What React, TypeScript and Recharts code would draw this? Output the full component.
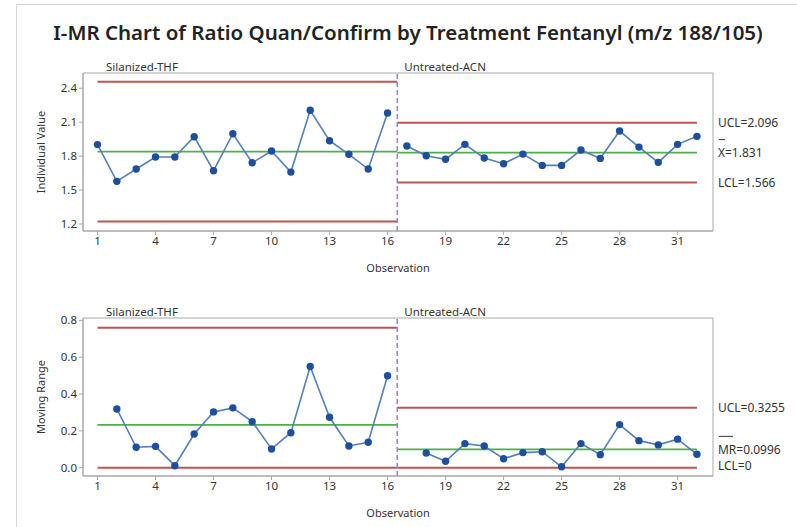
import React from 'react';
import {
  ComposedChart,
  Line,
  XAxis,
  YAxis,
  ReferenceLine,
  ReferenceArea,
  Label,
} from 'recharts';

// Observation numbers, split by treatment stage
const stage1Obs = [1, 2, 3, 4, 5, 6, 7, 8, 9, 10, 11, 12, 13, 14, 15, 16];
const stage2Obs = [17, 18, 19, 20, 21, 22, 23, 24, 25, 26, 27, 28, 29, 30, 31, 32];
const stageNames = ['Silanized-THF', 'Untreated-ACN'];

// Individual ratio values (Quan/Confirm)
const stage1Values = [1.902, 1.577, 1.686, 1.792, 1.792, 1.972, 1.671, 1.998, 1.742, 1.845, 1.659, 2.205, 1.936, 1.816, 1.686, 2.181];
const stage2Values = [1.889, 1.803, 1.772, 1.904, 1.783, 1.733, 1.818, 1.718, 1.718, 1.854, 1.78, 2.022, 1.88, 1.745, 1.904, 1.975];

// Moving ranges (first observation of each stage has none)
const stage1MR = [null, 0.319, 0.111, 0.116, 0.011, 0.183, 0.303, 0.325, 0.25, 0.102, 0.19, 0.55, 0.274, 0.118, 0.138, 0.499];
const stage2MR = [null, 0.08, 0.035, 0.131, 0.118, 0.049, 0.082, 0.087, 0.005, 0.131, 0.071, 0.234, 0.147, 0.124, 0.155, 0.073];

// Control limits per stage
const indUCL = [2.458, 2.096];
const indMean = [1.84, 1.831];
const indLCL = [1.222, 1.566];
const mrUCL = [0.7596, 0.3255];
const mrMean = [0.2325, 0.0996];
const mrLCL = [0, 0];

// Axis ticks
const obsTicks = [1, 4, 7, 10, 13, 16, 19, 22, 25, 28, 31];
const indTicks = [1.2, 1.5, 1.8, 2.1, 2.4];
const mrTicks = [0, 0.2, 0.4, 0.6, 0.8];

const xDomain: [number, number] = [0.25, 32.83];
const indDomain: [number, number] = [1.138, 2.535];
const mrDomain: [number, number] = [-0.045, 0.813];
const stageBreak = 16.5;
const stageStart = 1;
const stageEnd = 32;

const FONT = '"Segoe UI", "Noto Sans", "Open Sans", sans-serif';
const TEXT = '#333333';
const FRAME = '#a8a8a8';
const LINE_BLUE = '#5580b6';
const DOT_BLUE = '#1d4f9e';
const GREEN = '#4fae4a';
const RED = '#bf5552';
const PURPLE = '#9a7fd3';

const toRows = (xs: number[], ys: (number | null)[]) => xs.map((x, i) => ({ obs: x, v: ys[i] }));

const Dot = (props: any) => {
  const { cx, cy, value } = props;
  if (value == null || cx == null || cy == null) return null;
  return <circle cx={cx} cy={cy} r={3.7} fill={DOT_BLUE} stroke="none" />;
};

// Text placed to the right of a limit line's end
const LimitTag = (props: any) => {
  const { viewBox, text, bar, barWidth = 6, dy = 0 } = props;
  const x = viewBox.x + viewBox.width + 21;
  const y = viewBox.y + dy;
  return (
    <g>
      {bar && (
        <line x1={x + 1} x2={x + 1 + barWidth} y1={y - 13} y2={y - 13} stroke={TEXT} strokeWidth={1} />
      )}
      <text x={x} y={y} dominantBaseline="central" fontSize={12} fontFamily={FONT} fill={TEXT}>
        {text}
      </text>
    </g>
  );
};

const StageTag = (props: any) => {
  const { viewBox, text, dx } = props;
  return (
    <text
      x={viewBox.x + dx}
      y={viewBox.y - 7}
      dominantBaseline="central"
      fontSize={11.5}
      fontFamily={FONT}
      fill={TEXT}
    >
      {text}
    </text>
  );
};

type PanelProps = {
  width: number;
  height: number;
  marginTop: number;
  marginBottom: number;
  yDomain: [number, number];
  yTicks: number[];
  yLabel: string;
  s1: (number | null)[];
  s2: (number | null)[];
  ucl: number[];
  mean: number[];
  lcl: number[];
  tags: { ucl: string; mean: string; meanBarWidth: number; lcl: string; lclDy: number };
};

const Panel = (p: PanelProps) => {
  const rows1 = toRows(stage1Obs, p.s1);
  const rows2 = toRows(stage2Obs, p.s2);
  const seg = (a: number, b: number, y: number) => [
    { x: a, y },
    { x: b, y },
  ];
  const tickStyle = { fontSize: 11.5, fontFamily: FONT, fill: TEXT };
  return (
    <ComposedChart
      width={p.width}
      height={p.height}
      margin={{ top: p.marginTop, right: 84, bottom: p.marginBottom, left: 0 }}
    >
      <XAxis
        dataKey="obs"
        type="number"
        domain={xDomain}
        ticks={obsTicks}
        allowDataOverflow
        interval={0}
        height={44}
        tickSize={4}
        stroke={FRAME}
        tick={tickStyle}
        tickLine={{ stroke: FRAME }}
        axisLine={{ stroke: FRAME }}
      >
        <Label
          value="Observation"
          position="insideBottom"
          offset={3}
          style={{ fontSize: 11, fontFamily: FONT, fill: TEXT }}
        />
      </XAxis>
      <YAxis
        type="number"
        domain={p.yDomain}
        ticks={p.yTicks}
        allowDataOverflow
        interval={0}
        width={83}
        tickSize={4}
        tickFormatter={(v: number) => v.toFixed(1)}
        tick={tickStyle}
        tickLine={{ stroke: FRAME }}
        axisLine={{ stroke: FRAME }}
      >
        <Label
          value={p.yLabel}
          angle={-90}
          position="insideLeft"
          offset={41}
          style={{ fontSize: 11, fontFamily: FONT, fill: TEXT, textAnchor: 'middle' }}
        />
      </YAxis>

      <ReferenceArea
        x1={xDomain[0]}
        x2={xDomain[1]}
        y1={p.yDomain[0]}
        y2={p.yDomain[1]}
        fill="none"
        stroke={FRAME}
        strokeWidth={1}
      />

      {/* Stage 1 limits */}
      <ReferenceLine segment={seg(stageStart, stageBreak, p.ucl[0])} stroke={RED} strokeWidth={2} />
      <ReferenceLine segment={seg(stageStart, stageBreak, p.mean[0])} stroke={GREEN} strokeWidth={1.6} />
      <ReferenceLine segment={seg(stageStart, stageBreak, p.lcl[0])} stroke={RED} strokeWidth={2} />

      {/* Stage 2 limits with their value tags */}
      <ReferenceLine segment={seg(stageBreak, stageEnd, p.ucl[1])} stroke={RED} strokeWidth={2}>
        <Label content={(lp: any) => <LimitTag {...lp} text={p.tags.ucl} />} />
      </ReferenceLine>
      <ReferenceLine segment={seg(stageBreak, stageEnd, p.mean[1])} stroke={GREEN} strokeWidth={1.6}>
        <Label
          content={(lp: any) => (
            <LimitTag {...lp} text={p.tags.mean} bar barWidth={p.tags.meanBarWidth} />
          )}
        />
      </ReferenceLine>
      <ReferenceLine segment={seg(stageBreak, stageEnd, p.lcl[1])} stroke={RED} strokeWidth={2}>
        <Label content={(lp: any) => <LimitTag {...lp} text={p.tags.lcl} dy={p.tags.lclDy} />} />
      </ReferenceLine>

      {/* Stage names */}
      <ReferenceLine x={stageStart} stroke="none">
        <Label content={(lp: any) => <StageTag {...lp} text={stageNames[0]} dx={8.5} />} />
      </ReferenceLine>
      <ReferenceLine x={stageBreak} stroke={PURPLE} strokeWidth={1.5} strokeDasharray="5 3">
        <Label content={(lp: any) => <StageTag {...lp} text={stageNames[1]} dx={7} />} />
      </ReferenceLine>

      <Line
        data={rows1}
        dataKey="v"
        type="linear"
        stroke={LINE_BLUE}
        strokeWidth={1.6}
        dot={<Dot />}
        activeDot={false}
        isAnimationActive={false}
        connectNulls={false}
      />
      <Line
        data={rows2}
        dataKey="v"
        type="linear"
        stroke={LINE_BLUE}
        strokeWidth={1.6}
        dot={<Dot />}
        activeDot={false}
        isAnimationActive={false}
        connectNulls={false}
      />
    </ComposedChart>
  );
};

export default function App() {
  return (
    <div
      style={{
        position: 'fixed',
        left: 0,
        top: 0,
        width: 797,
        height: 527,
        background: '#ffffff',
        overflow: 'hidden',
      }}
    >
      <div
        style={{
          position: 'absolute',
          left: 16,
          top: 4,
          right: -2,
          bottom: -2,
          borderLeft: '1px solid #d6d6d6',
          borderTop: '1px solid #d6d6d6',
        }}
      />
      <div
        style={{
          position: 'absolute',
          left: 0,
          width: 816,
          top: 18,
          textAlign: 'center',
          fontFamily: FONT,
          fontWeight: 600,
          fontSize: 20.5,
          lineHeight: '28px',
          color: '#222222',
          whiteSpace: 'nowrap',
        }}
      >
        I-MR Chart of Ratio Quan/Confirm by Treatment Fentanyl (m/z 188/105)
      </div>
      <div style={{ position: 'absolute', left: 0, top: 0 }}>
        <Panel
          width={797}
          height={280}
          marginTop={73}
          marginBottom={5}
          yDomain={indDomain}
          yTicks={indTicks}
          yLabel="Individual Value"
          s1={stage1Values}
          s2={stage2Values}
          ucl={indUCL}
          mean={indMean}
          lcl={indLCL}
          tags={{ ucl: 'UCL=2.096', mean: 'X=1.831', meanBarWidth: 6, lcl: 'LCL=1.566', lclDy: 0 }}
        />
      </div>
      <div style={{ position: 'absolute', left: 0, top: 280 }}>
        <Panel
          width={797}
          height={247}
          marginTop={38}
          marginBottom={7}
          yDomain={mrDomain}
          yTicks={mrTicks}
          yLabel="Moving Range"
          s1={stage1MR}
          s2={stage2MR}
          ucl={mrUCL}
          mean={mrMean}
          lcl={mrLCL}
          tags={{ ucl: 'UCL=0.3255', mean: 'MR=0.0996', meanBarWidth: 14, lcl: 'LCL=0', lclDy: -2 }}
        />
      </div>
    </div>
  );
}
